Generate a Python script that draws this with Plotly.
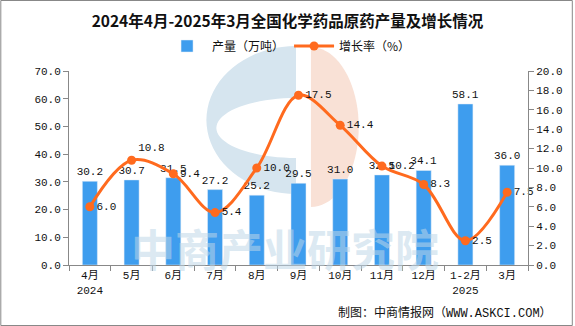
import math
import plotly.graph_objects as go

categories = ["4月<br>2024", "5月", "6月", "7月", "8月", "9月", "10月", "11月", "12月", "1-2月<br>2025", "3月"]
production = [30.2, 30.7, 31.5, 27.2, 25.2, 29.5, 31.0, 32.5, 34.1, 58.1, 36.0]
growth = [6.0, 10.8, 9.4, 5.4, 10.0, 17.5, 14.4, 10.2, 8.3, 2.5, 7.5]
left_ticks = [0, 10, 20, 30, 40, 50, 60, 70]
right_ticks = [0, 2, 4, 6, 8, 10, 12, 14, 16, 18, 20]

W, H = 575, 326
L, R, T, B = 69, 530, 71, 265
FONT = "Noto Sans CJK SC"
NUMFONT = "Liberation Mono, Noto Sans CJK SC"


def px(x):
    return (x - L) / (R - L)


def py(y):
    return (B - y) / (B - T)


growth_pos = ["middle right"] * len(growth)
growth_pos[1] = "top right"

fig = go.Figure()
fig.add_trace(go.Bar(
    x=categories, y=production, name="产量（万吨）",
    marker_color="#3E9DEE", width=0.36,
    text=[f"{v:.1f}" for v in production], textposition="outside", constraintext="none",
    textfont=dict(family=NUMFONT, size=11, color="#111"), cliponaxis=False,
))
fig.add_trace(go.Scatter(
    x=categories, y=growth, name="增长率（%）", yaxis="y2",
    mode="lines+markers+text", line=dict(color="#FF6A1E", width=3, shape="spline", smoothing=1.0),
    marker=dict(size=9, color="#FF6A1E"),
    text=[f"{v:.1f}" for v in growth], textposition=growth_pos,
    textfont=dict(family=NUMFONT, size=11, color="#111"), cliponaxis=False,
))

shapes = []


def ellipse_path(cx, cy, rx, ry, a0, a1, n=40):
    pts = []
    for i in range(n + 1):
        a = a0 + (a1 - a0) * i / n
        pts.append((cx + rx * math.cos(a), cy + ry * math.sin(a)))
    return pts


outer = ellipse_path(297, 120, 90, 74, math.pi / 2, 3 * math.pi / 2)
inner = ellipse_path(297, 128, 80, 30, math.pi / 2, 3 * math.pi / 2)
path = "M " + " L ".join(f"{px(x):.4f},{py(y):.4f}" for x, y in outer) + " Z "
path += "M " + " L ".join(f"{px(x):.4f},{py(y):.4f}" for x, y in inner) + " Z"
shapes.append(dict(type="path", path=path, xref="paper", yref="paper", fillcolor="#D6E5EF",
                   line=dict(width=0), layer="below", fillrule="evenodd"))
orange = ellipse_path(312, 127, 48, 80, -math.pi / 2, math.pi / 2)
path2 = "M " + " L ".join(f"{px(x):.4f},{py(y):.4f}" for x, y in orange) + " Z"
shapes.append(dict(type="path", path=path2, xref="paper", yref="paper", fillcolor="#F9E1D6",
                   line=dict(width=0), layer="below"))
shapes.append(dict(type="rect", xref="paper", yref="paper",
                   x0=px(0.5), x1=px(574.5), y0=py(325.5), y1=py(0.5),
                   line=dict(color="#888", width=1), fillcolor="rgba(0,0,0,0)", layer="above"))

annotations = [
    dict(text="<b>中商产业研究院</b>", x=px(286), y=py(248), xref="paper", yref="paper", showarrow=False,
         font=dict(family=FONT, size=44, color="rgba(190,215,232,0.55)"), xanchor="center", yanchor="middle"),
    dict(text="制图：中商情报网（WWW.ASKCI.COM）", x=px(556), y=py(313), xref="paper", yref="paper",
         showarrow=False, xanchor="right", yanchor="middle", font=dict(family=NUMFONT, size=12, color="#111")),
]

fig.update_layout(
    width=W, height=H,
    margin=dict(l=L, r=W - R, t=T, b=H - B, pad=0),
    paper_bgcolor="white", plot_bgcolor="rgba(0,0,0,0)",
    font=dict(family=NUMFONT, size=11, color="#111"),
    title=dict(text="<b>2024年4月-2025年3月全国化学药品原药产量及增长情况</b>", x=0.5, xanchor="center",
               y=1 - 22 / H, yanchor="middle", font=dict(family=FONT, size=15.5, color="#111")),
    legend=dict(orientation="h", x=px(290), xref="paper", xanchor="center", y=py(46), yanchor="middle",
                font=dict(family=FONT, size=12), itemwidth=40, bgcolor="rgba(0,0,0,0)"),
    bargap=0.64,
    xaxis=dict(range=[-0.5, 10.5], showline=True, linecolor="#888", ticks="outside", tickcolor="#888", ticklen=5,
               tickson="boundaries", showgrid=False, tickfont=dict(size=11)),
    yaxis=dict(range=[0, 70], tickvals=left_ticks, ticktext=[f"{v:.1f}" for v in left_ticks],
               showline=True, linecolor="#888", ticks="outside", tickcolor="#888", ticklen=5,
               showgrid=False, zeroline=False, tickfont=dict(size=11)),
    yaxis2=dict(range=[0, 20], tickvals=right_ticks, ticktext=[f"{v:.1f}" for v in right_ticks],
                overlaying="y", side="right", showline=True, linecolor="#888", ticks="outside",
                tickcolor="#888", ticklen=5, showgrid=False, zeroline=False, tickfont=dict(size=11)),
    shapes=shapes, annotations=annotations,
)

fig.write_html("out.html")
